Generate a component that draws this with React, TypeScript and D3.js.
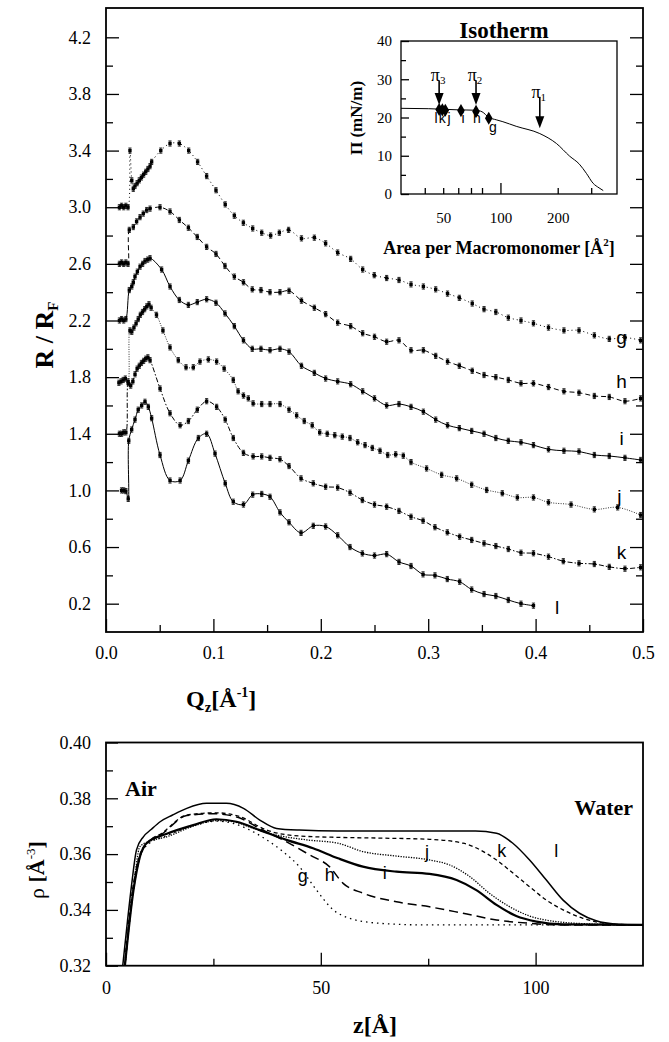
import React, { useEffect, useRef } from 'react';
import * as d3 from 'd3';

const serif = '"Liberation Serif", "Times New Roman", serif';
const sans = '"Liberation Sans", Arial, sans-serif';

// ---- reflectivity R/RF vs Qz (curves offset), [Qz, R/RF]
const gPts = [[.0125,3.0],[.0145,3.01],[.0165,3.0],[.0185,3.01],[.0205,3.0],[.0223,3.40],[.024,3.19],[.0254,3.13],[.027,3.15],[.029,3.17],[.031,3.19],[.033,3.21],[.035,3.23],[.037,3.25],[.039,3.27],[.041,3.29],[.0425,3.32],[.051,3.40],[.0596,3.45],[.0683,3.45],[.077,3.40],[.0853,3.32],[.0937,3.22],[.1024,3.12],[.111,3.02],[.1195,2.94],[.1279,2.89],[.1366,2.85],[.145,2.82],[.1533,2.80],[.1614,2.82],[.170,2.84],[.182,2.78],[.194,2.785],[.2045,2.745],[.2157,2.68],[.2278,2.635],[.239,2.56],[.2498,2.52],[.2613,2.50],[.2728,2.486],[.284,2.455],[.2955,2.44],[.307,2.42],[.318,2.39],[.329,2.36],[.341,2.32],[.352,2.28],[.363,2.26],[.3746,2.22],[.3864,2.20],[.398,2.18],[.412,2.15],[.4264,2.13],[.4404,2.13],[.4547,2.095],[.4686,2.07],[.4832,2.08],[.4978,2.06]];
const hPts = [[.0125,2.6],[.0145,2.61],[.0165,2.6],[.0185,2.61],[.0205,2.6],[.0217,2.84],[.0254,2.86],[.0285,2.90],[.0317,2.93],[.0347,2.955],[.0379,2.98],[.041,2.99],[.0503,3.0],[.0596,2.97],[.0683,2.91],[.0767,2.855],[.085,2.79],[.0937,2.72],[.1024,2.67],[.1108,2.585],[.1195,2.51],[.128,2.47],[.1362,2.42],[.1443,2.415],[.1527,2.40],[.162,2.40],[.1704,2.41],[.182,2.34],[.194,2.29],[.2045,2.245],[.2157,2.185],[.2278,2.16],[.239,2.11],[.25,2.085],[.2613,2.05],[.2728,2.06],[.284,1.99],[.2955,1.99],[.307,1.95],[.318,1.91],[.329,1.88],[.341,1.845],[.352,1.815],[.363,1.80],[.3746,1.78],[.3864,1.756],[.398,1.756],[.412,1.73],[.4264,1.70],[.4404,1.69],[.4547,1.667],[.4686,1.66],[.4832,1.63],[.4978,1.65]];
const iPts = [[.0125,2.2],[.0145,2.21],[.0165,2.2],[.0185,2.21],[.0217,2.415],[.024,2.44],[.0254,2.47],[.027,2.51],[.0292,2.545],[.0317,2.58],[.0341,2.60],[.0363,2.62],[.0388,2.63],[.041,2.64],[.0518,2.56],[.0596,2.44],[.0683,2.345],[.0767,2.31],[.085,2.33],[.0937,2.35],[.1024,2.325],[.1108,2.25],[.1195,2.16],[.128,2.06],[.1362,2.0],[.1443,2.0],[.1527,1.99],[.162,2.0],[.1704,1.98],[.182,1.88],[.194,1.83],[.2045,1.79],[.2157,1.77],[.2278,1.75],[.239,1.70],[.25,1.65],[.2613,1.60],[.2728,1.61],[.284,1.59],[.2955,1.556],[.307,1.50],[.318,1.46],[.329,1.44],[.3405,1.42],[.352,1.40],[.363,1.37],[.3746,1.35],[.3864,1.34],[.398,1.32],[.412,1.29],[.4264,1.28],[.4404,1.275],[.4547,1.25],[.4686,1.243],[.4832,1.23],[.4978,1.215]];
const jPts = [[.012,1.76],[.014,1.77],[.016,1.78],[.018,1.79],[.0205,1.77],[.0223,2.13],[.024,2.12],[.026,2.15],[.028,2.18],[.030,2.21],[.032,2.24],[.034,2.26],[.036,2.28],[.038,2.30],[.040,2.315],[.042,2.29],[.047,2.24],[.053,2.13],[.0596,2.01],[.0673,1.92],[.0745,1.87],[.0813,1.87],[.0875,1.91],[.0953,1.925],[.103,1.91],[.11,1.86],[.1185,1.78],[.123,1.70],[.128,1.67],[.1325,1.65],[.137,1.615],[.145,1.61],[.1527,1.61],[.162,1.61],[.1704,1.57],[.1775,1.53],[.1846,1.49],[.192,1.46],[.199,1.41],[.206,1.40],[.213,1.39],[.22,1.38],[.2272,1.37],[.2343,1.34],[.2412,1.32],[.248,1.30],[.2551,1.28],[.2623,1.25],[.2697,1.255],[.2768,1.245],[.284,1.20],[.2985,1.155],[.3125,1.11],[.3265,1.085],[.3405,1.04],[.3544,1.003],[.369,0.98],[.383,0.95],[.398,0.95],[.412,0.916],[.433,0.90],[.4547,0.866],[.4764,0.88],[.4978,0.826]];
const kPts = [[.0125,1.40],[.0145,1.40],[.0165,1.41],[.0185,1.41],[.0208,1.756],[.023,1.74],[.025,1.77],[.027,1.82],[.029,1.86],[.031,1.88],[.033,1.90],[.035,1.915],[.037,1.93],[.039,1.94],[.041,1.92],[.0503,1.72],[.0596,1.545],[.069,1.46],[.0767,1.49],[.085,1.57],[.0937,1.63],[.103,1.59],[.111,1.50],[.1185,1.37],[.128,1.265],[.137,1.24],[.145,1.24],[.1527,1.23],[.162,1.22],[.1704,1.172],[.1816,1.085],[.193,1.05],[.2045,1.026],[.2157,1.02],[.2272,0.984],[.2387,0.932],[.25,0.90],[.2613,0.885],[.2728,0.855],[.284,0.814],[.2952,0.786],[.3063,0.74],[.3178,0.704],[.3293,0.673],[.3405,0.65],[.352,0.626],[.363,0.607],[.3746,0.586],[.3864,0.56],[.398,0.556],[.412,0.532],[.4258,0.50],[.4404,0.485],[.4547,0.48],[.4686,0.46],[.4832,0.447],[.4978,0.457]];
const lPts = [[.0145,1.0],[.0165,1.0],[.0185,0.995],[.0207,0.94],[.0212,1.35],[.0239,1.43],[.027,1.50],[.030,1.57],[.0332,1.60],[.0363,1.626],[.0394,1.59],[.0425,1.51],[.0503,1.25],[.0596,1.07],[.069,1.07],[.0767,1.21],[.086,1.37],[.0937,1.40],[.1015,1.26],[.111,1.05],[.1185,0.92],[.128,0.90],[.1366,0.97],[.145,0.975],[.1527,0.955],[.162,0.845],[.1704,0.775],[.1816,0.70],[.193,0.75],[.2045,0.745],[.2157,0.683],[.2272,0.60],[.2387,0.555],[.25,0.54],[.2613,0.55],[.2728,0.495],[.284,0.466],[.2952,0.407],[.3063,0.40],[.3178,0.374],[.3293,0.355],[.3405,0.30],[.352,0.268],[.363,0.254],[.3746,0.226],[.3864,0.20],[.398,0.186]];

const reflNames = ['g', 'h', 'i', 'j', 'k', 'l'];
const reflData = [gPts, hPts, iPts, jPts, kPts, lPts];
const reflDash = ['1,3', '5,3', null, '1,1.4', '5,2,1.5,2', null];
const reflLabelQ = [0.48, 0.48, 0.48, 0.478, 0.48, 0.42];
const reflLabelV = [2.08, 1.77, 1.37, 0.955, 0.56, 0.17];

const rMajor = [0.2, 0.6, 1.0, 1.4, 1.8, 2.2, 2.6, 3.0, 3.4, 3.8, 4.2];
const rMinor = [0.4, 0.8, 1.2, 1.6, 2.0, 2.4, 2.8, 3.2, 3.6, 4.0];
const qMajor = [0, 0.1, 0.2, 0.3, 0.4, 0.5];
const qMinor = [0.05, 0.15, 0.25, 0.35, 0.45];

// ---- isotherm inset
const isoArea = [30, 42, 60, 74, 80, 87, 95, 103, 121, 161, 197, 231, 260, 283, 307, 330, 347];
const isoPi = [22.4, 22.3, 22.0, 21.9, 21.5, 20.0, 19.4, 18.9, 17.7, 15.8, 13.2, 9.9, 7.8, 5.4, 2.8, 1.6, 0.9];
const markArea = [47.6, 49.5, 51.3, 62, 74.4, 86.8];
const markPi = [22.1, 22.0, 21.9, 21.8, 21.6, 19.8];
const markLabelArea = [45.8, 49.4, 53.6, 63.5, 75.3, 91.4];
const markLabelPi = [18.6, 18.6, 18.6, 18.6, 18.6, 16.2];
const arrowArea = [47.6, 74.4, 161];
const arrowTop = [29.7, 29.7, 25.4];
const arrowTip = [23.3, 23.3, 17.2];
const arrowSub = ['3', '2', '1'];
const piTicks = [0, 10, 20, 30, 40];
const piMinor = [5, 15, 25, 35];
const areaTicks = [50, 100, 200];
const areaMinor = [40, 50, 60, 70, 80, 200, 300];

// ---- density profiles, [z, rho]
const gProf = [[4.4,0.32],[6.4,0.3471],[7.9,0.359],[10,0.3638],[14,0.3665],[20,0.37],[25.7,0.3718],[29.6,0.371],[32.7,0.3692],[37.4,0.3651],[41.2,0.3609],[45,0.3555],[49,0.3471],[52.9,0.34],[56.7,0.337],[63.7,0.3352],[75,0.3346],[125,0.3346]];
const hProf = [[4.4,0.32],[6.3,0.347],[7.9,0.359],[10,0.3645],[13,0.3672],[18.8,0.3738],[25,0.3745],[31,0.373],[36,0.369],[41.2,0.3651],[47.4,0.3597],[52,0.3555],[55.2,0.3495],[59.8,0.346],[67.6,0.3429],[75.3,0.3411],[83.1,0.3388],[90.9,0.3364],[98.6,0.3352],[106,0.3346],[125,0.3346]];
const iProf = [[4.4,0.32],[6.4,0.3471],[7.9,0.3591],[9.5,0.364],[14,0.3672],[20.3,0.3704],[25.7,0.3725],[30.4,0.3716],[35.8,0.3686],[42,0.3651],[48.2,0.3621],[54,0.3585],[59.8,0.3555],[67.6,0.3537],[75.3,0.3529],[81.6,0.3507],[86.2,0.3471],[90.9,0.3418],[95.5,0.3378],[100.2,0.3358],[106.4,0.3348],[125,0.3346]];
const jProf = [[4.4,0.32],[6.3,0.3465],[7.9,0.3627],[10,0.3645],[14.1,0.3662],[20.3,0.37],[25.7,0.372],[29.6,0.3716],[34.3,0.3692],[39.7,0.3668],[46.7,0.3651],[54,0.3639],[59.8,0.3609],[67.6,0.3593],[75.3,0.3579],[80,0.3561],[84.7,0.3519],[89.3,0.3459],[94,0.3411],[98.6,0.3378],[104.8,0.3358],[114,0.3349],[125,0.3346]];
const kProf = [[4.3,0.32],[6.2,0.3475],[7.8,0.3595],[10,0.3645],[13,0.3675],[18.8,0.374],[25.7,0.3748],[31.2,0.3734],[37.4,0.3686],[45,0.3665],[54,0.366],[65,0.3657],[75.3,0.3653],[83.1,0.3639],[90.9,0.3579],[94.8,0.3531],[98.6,0.3483],[102.5,0.3435],[106.4,0.34],[111,0.337],[118,0.3349],[125,0.3346]];
const lProf = [[3.9,0.32],[5,0.336],[6,0.3495],[7.1,0.3615],[8.7,0.3662],[10.5,0.3688],[12.6,0.3716],[15.5,0.374],[18.8,0.3764],[23.4,0.3782],[28,0.3782],[32,0.3764],[35.8,0.3722],[39.7,0.3692],[45,0.3686],[54,0.3683],[70,0.3683],[86,0.3683],[90.9,0.3675],[94.7,0.3639],[98.6,0.3579],[102.5,0.3507],[106.4,0.3435],[110.2,0.3388],[114.1,0.3361],[118.8,0.3349],[125,0.3346]];

const profData = [gProf, hProf, iProf, jProf, kProf, lProf];
const profDash = ['1.5,4', '9,5', null, '1.3,1.3', '4,3', null];
const profWidth = [1.3, 1.5, 2.2, 1.3, 1.3, 1.5];
const profLabelZ = [45.8, 52.1, 64.9, 74.7, 92.1, 104.8];
const profLabelRho = [0.3500, 0.3503, 0.3509, 0.3585, 0.3591, 0.3591];

const zMajor = [0, 50, 100];
const zMinor = [25, 75];
const rhoMajor = [0.32, 0.34, 0.36, 0.38, 0.40];
const rhoMinor = [0.33, 0.35, 0.37, 0.39];

function styleAxis(g, size, font) {
  g.select('.domain').remove();
  g.selectAll('line').attr('stroke', '#000').attr('stroke-width', 1.3);
  g.selectAll('text').attr('font-family', font).attr('font-size', size).attr('fill', '#000');
}

export default function App() {
  const ref = useRef(null);

  useEffect(() => {
    const svg = d3.select(ref.current);
    svg.selectAll('*').remove();

    // ================= top: reflectivity =================
    const x = d3.scaleLinear().domain([0, 0.5]).range([106, 643]);
    const y = d3.scaleLinear().domain([0, 4.4]).range([632, 9]);

    svg.append('g').attr('transform', 'translate(106,0)')
      .call(d3.axisLeft(y).tickValues(rMajor).tickSize(-13).tickPadding(15).tickFormat(d3.format('.1f')))
      .call(g => styleAxis(g, 18, serif));
    svg.append('g').attr('transform', 'translate(106,0)')
      .call(d3.axisLeft(y).tickValues(rMinor).tickSize(-7).tickFormat(() => ''))
      .call(g => styleAxis(g, 18, serif));
    svg.append('g').attr('transform', 'translate(643,0)')
      .call(d3.axisRight(y).tickValues(rMajor).tickSize(-13).tickFormat(() => ''))
      .call(g => styleAxis(g, 18, serif));
    svg.append('g').attr('transform', 'translate(643,0)')
      .call(d3.axisRight(y).tickValues(rMinor).tickSize(-7).tickFormat(() => ''))
      .call(g => styleAxis(g, 18, serif));
    svg.append('g').attr('transform', 'translate(0,632)')
      .call(d3.axisBottom(x).tickValues(qMajor).tickSize(-13).tickPadding(14).tickFormat(d3.format('.1f')))
      .call(g => styleAxis(g, 18, serif));
    svg.append('g').attr('transform', 'translate(0,632)')
      .call(d3.axisBottom(x).tickValues(qMinor).tickSize(-7).tickFormat(() => ''))
      .call(g => styleAxis(g, 18, serif));

    svg.append('rect').attr('x', 106).attr('y', 8).attr('width', 537).attr('height', 624)
      .attr('fill', 'none').attr('stroke', '#000').attr('stroke-width', 1.8);

    const reflLine = d3.line().x(d => x(d[0])).y(d => y(d[1])).curve(d3.curveCatmullRom.alpha(0.5));

    reflData.forEach((pts, i) => {
      const g = svg.append('g');
      g.append('path').attr('d', reflLine(pts)).attr('fill', 'none').attr('stroke', '#000')
        .attr('stroke-width', reflDash[i] === '1,1.4' ? 0.8 : 1)
        .attr('stroke-dasharray', reflDash[i]);
      g.selectAll('path.err').data(pts).join('path').attr('class', 'err')
        .attr('d', d => {
          const cx = x(d[0]), cy = y(d[1]);
          return `M${cx - 1.6},${cy - 2.6}h3.2M${cx},${cy - 2.6}v5.2M${cx - 1.6},${cy + 2.6}h3.2`;
        })
        .attr('stroke', '#000').attr('stroke-width', 0.8).attr('fill', 'none');
      g.selectAll('rect').data(pts).join('rect')
        .attr('x', d => x(d[0]) - 1.7).attr('y', d => y(d[1]) - 1.7)
        .attr('width', 3.4).attr('height', 3.4).attr('fill', '#000');
      g.append('text').attr('x', x(reflLabelQ[i])).attr('y', y(reflLabelV[i]))
        .attr('text-anchor', 'middle').attr('dominant-baseline', 'central')
        .attr('font-family', sans).attr('font-size', 19).text(reflNames[i]);
    });

    svg.append('text').attr('transform', 'translate(53,335) rotate(-90)')
      .attr('text-anchor', 'middle').attr('font-family', serif).attr('font-weight', 'bold')
      .attr('font-size', 26)
      .call(t => {
        t.append('tspan').text('R / R');
        t.append('tspan').attr('font-size', 15).attr('dy', 5).text('F');
      });

    svg.append('text').attr('x', 186).attr('y', 707).attr('font-family', serif)
      .attr('font-weight', 'bold').attr('font-size', 24)
      .call(t => {
        t.append('tspan').text('Q');
        t.append('tspan').attr('font-size', 15).attr('dy', 5).text('z');
        t.append('tspan').attr('dy', -5).text('[Å');
        t.append('tspan').attr('font-size', 14).attr('dy', -10).text('-1');
        t.append('tspan').attr('dy', 10).text(']');
      });

    // ================= inset: isotherm =================
    const xi = d3.scaleLog().domain([30, 410]).range([401, 617]);
    const yi = d3.scaleLinear().domain([0, 40]).range([194, 41]);

    svg.append('g').attr('transform', 'translate(401,0)')
      .call(d3.axisLeft(yi).tickValues(piTicks).tickSize(-8).tickPadding(9).tickFormat(d3.format('d')))
      .call(g => styleAxis(g, 15, serif));
    svg.append('g').attr('transform', 'translate(401,0)')
      .call(d3.axisLeft(yi).tickValues(piMinor).tickSize(-5).tickFormat(() => ''))
      .call(g => styleAxis(g, 15, serif));
    svg.append('g').attr('transform', 'translate(0,194)')
      .call(d3.axisBottom(xi).tickValues(areaMinor).tickSize(-6).tickFormat(() => ''))
      .call(g => styleAxis(g, 15, serif));
    svg.append('g').attr('transform', 'translate(0,194)')
      .call(d3.axisBottom(xi).tickValues([100]).tickSize(-11).tickFormat(() => ''))
      .call(g => styleAxis(g, 15, serif));
    svg.append('g').attr('transform', 'translate(0,194)')
      .call(d3.axisBottom(xi).tickValues(areaTicks).tickSize(0).tickPadding(18).tickFormat(d3.format('d')))
      .call(g => styleAxis(g, 15, serif));
    svg.append('rect').attr('x', 401).attr('y', 41).attr('width', 216).attr('height', 153)
      .attr('fill', 'none').attr('stroke', '#000').attr('stroke-width', 1.3);

    const isoLine = d3.line().x((d, i) => xi(isoArea[i])).y((d, i) => yi(isoPi[i])).curve(d3.curveMonotoneX);
    svg.append('path').attr('d', isoLine(isoArea)).attr('fill', 'none').attr('stroke', '#000').attr('stroke-width', 1);

    svg.selectAll('path.mark').data(markArea).join('path').attr('class', 'mark')
      .attr('transform', (d, i) => `translate(${xi(d)},${yi(markPi[i])})`)
      .attr('d', d3.symbol(d3.symbolDiamond).size(50)).attr('fill', '#000');

    svg.selectAll('text.mlab').data(reflNames.slice().reverse()).join('text').attr('class', 'mlab')
      .attr('x', (d, i) => xi(markLabelArea[i])).attr('y', (d, i) => yi(markLabelPi[i]))
      .attr('text-anchor', 'middle').attr('font-family', sans).attr('font-size', 14).text(d => d);

    arrowArea.forEach((a, i) => {
      const ax = xi(a), y0 = yi(arrowTop[i]), y1 = yi(arrowTip[i]);
      svg.append('line').attr('x1', ax).attr('x2', ax).attr('y1', y0).attr('y2', y1 - 10)
        .attr('stroke', '#000').attr('stroke-width', 1.6);
      svg.append('path').attr('d', `M${ax - 4.5},${y1 - 12}L${ax + 4.5},${y1 - 12}L${ax},${y1}Z`).attr('fill', '#000');
      svg.append('text').attr('x', ax - 1).attr('y', y0 + 1).attr('text-anchor', 'middle')
        .attr('font-family', serif).attr('font-size', 18)
        .call(t => {
          t.append('tspan').text('π');
          t.append('tspan').attr('font-size', 11).attr('dy', 3).text(arrowSub[i]);
        });
    });

    svg.append('text').attr('x', 504).attr('y', 38).attr('text-anchor', 'middle')
      .attr('font-family', serif).attr('font-weight', 'bold').attr('font-size', 23).text('Isotherm');
    svg.append('text').attr('transform', 'translate(362,118) rotate(-90)').attr('text-anchor', 'middle')
      .attr('font-family', serif).attr('font-weight', 'bold').attr('font-size', 17).text('Π (mN/m)');
    svg.append('text').attr('x', 499).attr('y', 254).attr('text-anchor', 'middle')
      .attr('font-family', serif).attr('font-weight', 'bold').attr('font-size', 18)
      .call(t => {
        t.append('tspan').text('Area per Macromonomer [Å');
        t.append('tspan').attr('font-size', 11).attr('dy', -8).text('2');
        t.append('tspan').attr('dy', 8).text(']');
      });

    // ================= bottom: density profiles =================
    const xb = d3.scaleLinear().domain([0, 125]).range([106, 643]);
    const yb = d3.scaleLinear().domain([0.32, 0.40]).range([965.7, 742.5]);

    svg.append('g').attr('transform', 'translate(106,0)')
      .call(d3.axisLeft(yb).tickValues(rhoMajor).tickSize(-12).tickPadding(15).tickFormat(d3.format('.2f')))
      .call(g => styleAxis(g, 18, serif));
    svg.append('g').attr('transform', 'translate(106,0)')
      .call(d3.axisLeft(yb).tickValues(rhoMinor).tickSize(-7).tickFormat(() => ''))
      .call(g => styleAxis(g, 18, serif));
    svg.append('g').attr('transform', 'translate(0,965.7)')
      .call(d3.axisBottom(xb).tickValues(zMajor).tickSize(-13).tickPadding(16).tickFormat(d3.format('d')))
      .call(g => styleAxis(g, 18, serif));
    svg.append('g').attr('transform', 'translate(0,965.7)')
      .call(d3.axisBottom(xb).tickValues(zMinor).tickSize(-7).tickFormat(() => ''))
      .call(g => styleAxis(g, 18, serif));

    const profLine = d3.line().x(d => xb(d[0])).y(d => yb(d[1])).curve(d3.curveMonotoneX);
    profData.forEach((p, i) => {
      svg.append('path').attr('d', profLine(p)).attr('fill', 'none').attr('stroke', '#000')
        .attr('stroke-width', profWidth[i]).attr('stroke-dasharray', profDash[i]);
      svg.append('text').attr('x', xb(profLabelZ[i])).attr('y', yb(profLabelRho[i]))
        .attr('text-anchor', 'middle').attr('font-family', sans).attr('font-size', 18).text(reflNames[i]);
    });

    svg.append('rect').attr('x', 106).attr('y', 742.5).attr('width', 537).attr('height', 223.2)
      .attr('fill', 'none').attr('stroke', '#000').attr('stroke-width', 1.8);

    svg.append('text').attr('x', 125).attr('y', 796).attr('font-family', serif)
      .attr('font-weight', 'bold').attr('font-size', 22).text('Air');
    svg.append('text').attr('x', 633).attr('y', 815).attr('text-anchor', 'end').attr('font-family', serif)
      .attr('font-weight', 'bold').attr('font-size', 22).text('Water');

    svg.append('text').attr('transform', 'translate(44,870) rotate(-90)').attr('text-anchor', 'middle')
      .attr('font-family', serif).attr('font-size', 22)
      .call(t => {
        t.append('tspan').text('ρ ');
        t.append('tspan').attr('font-weight', 'bold').text('[Å');
        t.append('tspan').attr('font-size', 13).attr('dy', -9).text('-3');
        t.append('tspan').attr('font-weight', 'bold').attr('dy', 9).text(']');
      });

    svg.append('text').attr('x', 375).attr('y', 1033).attr('text-anchor', 'middle')
      .attr('font-family', serif).attr('font-weight', 'bold').attr('font-size', 24).text('z[Å]');
  }, []);

  return (
    <svg ref={ref} width={669} height={1042}
      style={{ position: 'absolute', left: 0, top: 0, background: '#fff' }} />
  );
}
